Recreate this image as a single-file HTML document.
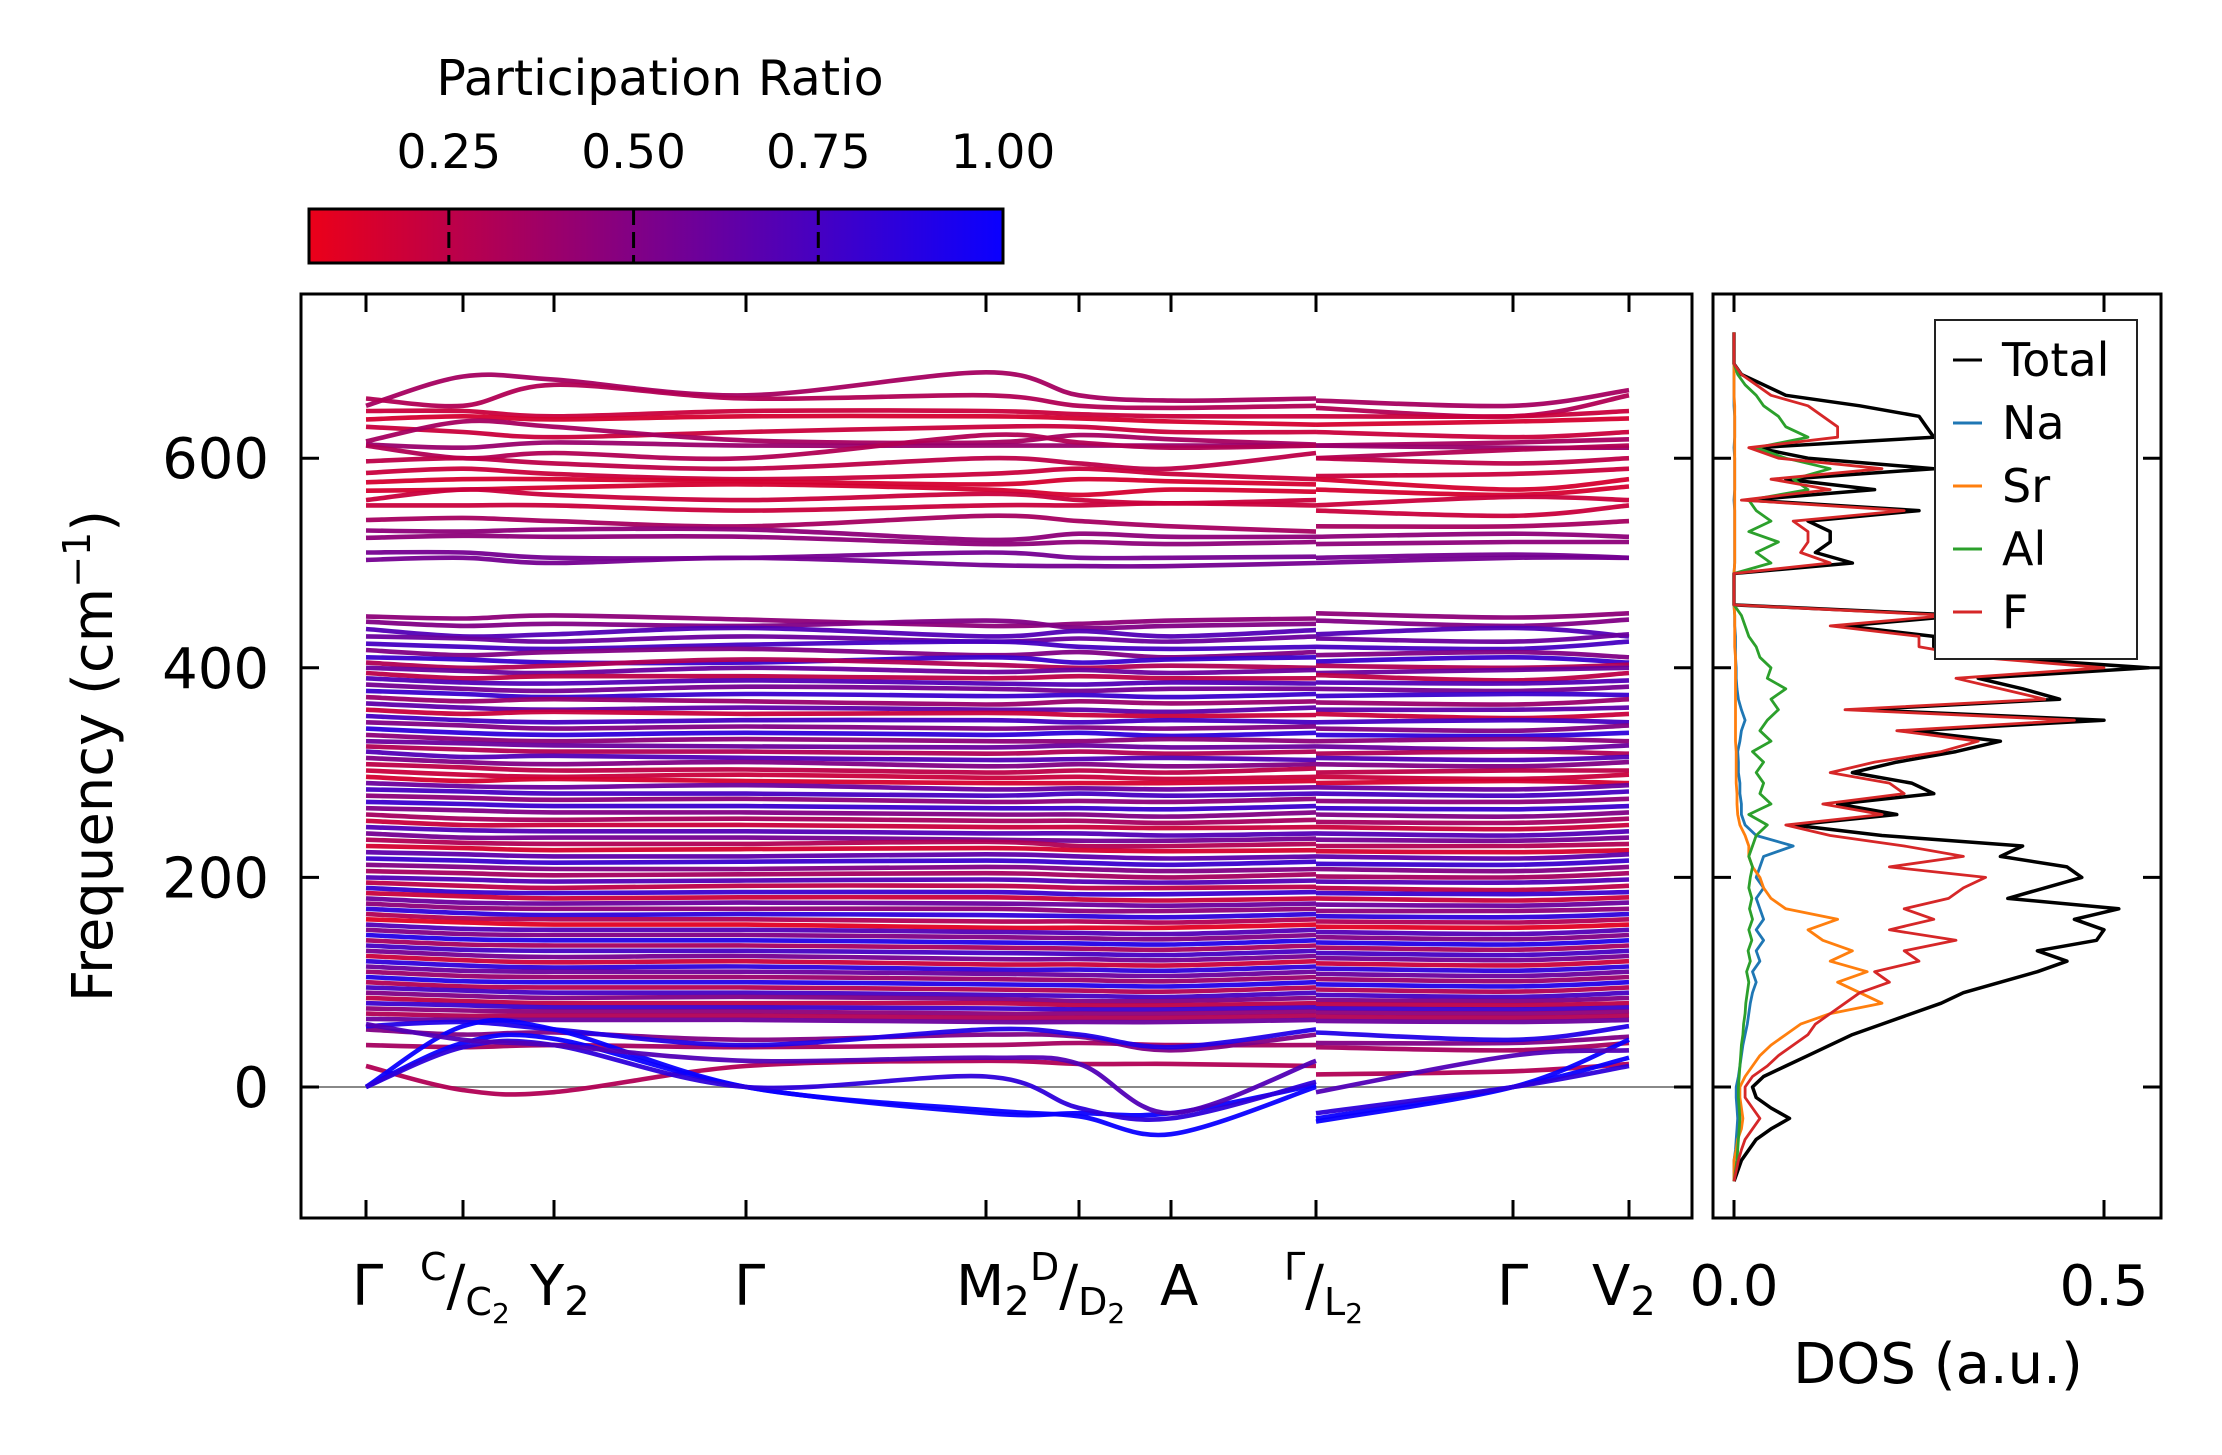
<!DOCTYPE html>
<html><head><meta charset="utf-8"><style>
html,body{margin:0;padding:0;background:#fff}
svg{display:block}
text{font-family:"DejaVu Sans","Liberation Sans",sans-serif;fill:#000}
</style></head><body>
<svg id="chart" width="2222" height="1455" viewBox="0 0 2222 1455" xmlns="http://www.w3.org/2000/svg">
<defs>
<linearGradient id="cbgrad" x1="0" x2="1" y1="0" y2="0">
<stop offset="0" stop-color="rgb(235,0,25)"/><stop offset="1" stop-color="rgb(10,0,255)"/>
</linearGradient>
<clipPath id="mainclip"><rect x="301" y="294" width="1391" height="924"/></clipPath>
<clipPath id="dosclip"><rect x="1713" y="294" width="448" height="924"/></clipPath>
</defs>
<g id="colorbar">
<text x="660" y="95" font-size="49" text-anchor="middle">Participation Ratio</text>
<rect x="309" y="209" width="694" height="54" fill="url(#cbgrad)" stroke="#000" stroke-width="3"/>
</g>
<g id="bands" clip-path="url(#mainclip)"></g>
<g id="dos" clip-path="url(#dosclip)"></g>
<g id="axes"></g>
<g id="legend"></g>
<text transform="translate(112,756) rotate(-90)" font-size="56" text-anchor="middle">Frequency (cm<tspan font-size="38" dy="-22">−1</tspan><tspan dy="22">)</tspan></text>
<text x="1938" y="1383" font-size="56" text-anchor="middle">DOS (a.u.)</text>
<g id="xlabels" font-size="56">
<text x="352" y="1305">Γ</text>
<text x="420" y="1280" font-size="38">C<tspan font-size="56" dy="25">/</tspan><tspan font-size="38" dy="10">C</tspan><tspan font-size="28" dy="8">2</tspan></text>
<text x="530" y="1305">Y<tspan font-size="40" dy="10">2</tspan></text>
<text x="734" y="1305">Γ</text>
<text x="956" y="1305">M<tspan font-size="40" dy="10">2</tspan></text>
<text x="1030" y="1280" font-size="38">D<tspan font-size="56" dy="25">/</tspan><tspan font-size="38" dy="10">D</tspan><tspan font-size="28" dy="8">2</tspan></text>
<text x="1160" y="1305">A</text>
<text x="1284" y="1280" font-size="38">Γ<tspan font-size="56" dy="25">/</tspan><tspan font-size="38" dy="10">L</tspan><tspan font-size="28" dy="8">2</tspan></text>
<text x="1497" y="1305">Γ</text>
<text x="1592" y="1305">V<tspan font-size="40" dy="10">2</tspan></text>
</g>
</svg>
<script>
const cbTicks = [0.25, 0.50, 0.75, 1.00];
const cbTickLabels = ["0.25", "0.50", "0.75", "1.00"];
const kLabels = ["Γ","C","Y2","Γ","M2","D","A","Γ|L2","L2","Γ","V2"];
const kDist = [0, 0.97, 1.88, 3.80, 6.20, 7.13, 8.05, 9.50, 9.50, 11.47, 12.63];
const yTicks = [0, 200, 400, 600];
const yTickLabels = ["0", "200", "400", "600"];
const dosTicks = [0.0, 0.5];
const dosTickLabels = ["0.0", "0.5"];
const bandPR = [
0.35,0.3,0.2,0.15,0.2,0.35,0.4,0.3,0.25,0.2,0.15,0.15,0.2,0.2,0.35,0.45,0.45,0.55,0.55,
0.45,0.5,0.7,0.6,0.75,0.5,0.8,0.3,0.6,0.25,0.7,0.55,0.8,0.4,0.65,0.2,0.75,0.5,0.85,0.45,0.6,0.3,0.7,0.5,0.25,0.2,0.15,0.6,0.75,0.45,0.8,0.5,0.35,0.2,0.7,0.55,0.3,0.15,0.65,0.8,0.5,0.35,0.7,0.25,0.8,0.2,0.6,0.45,0.85,0.3,0.1,0.7,0.5,0.9,0.35,0.75,0.55,0.2,0.85,0.6,0.4,0.9,0.3,0.75,0.5,0.25,0.8,0.45,0.3,0.6,
0.35,0.5,0.9,0.3,1.0,1.0,0.85,0.7];
const bandFreq = [
[650,678,675,660,682,660,655,657,655,650,665],
[657,650,670,657,660,650,648,650,648,640,660],
[645,645,640,645,645,642,640,640,640,640,645],
[637,640,637,640,640,638,635,632,632,635,638],
[630,625,620,625,630,630,625,625,625,620,625],
[616,635,630,617,615,622,618,613,612,615,618],
[613,610,615,612,612,612,612,612,612,610,610],
[612,600,605,600,622,615,610,612,600,608,612],
[597,600,595,590,600,595,590,605,600,595,600],
[586,590,585,580,585,590,585,580,583,585,590],
[577,580,580,578,575,580,578,575,580,570,580],
[569,570,572,575,570,565,570,568,570,565,573],
[560,570,565,560,566,560,557,560,555,563,560],
[555,555,555,550,555,555,557,555,550,545,555],
[541,543,540,535,545,540,535,530,535,535,540],
[531,530,532,532,522,528,525,525,525,528,525],
[524,526,525,525,518,520,518,520,518,520,520],
[510,510,505,505,510,505,505,506,505,508,505],
[503,505,500,505,498,497,497,500,500,505,505],
[449,447,450,446,440,442,445,447,452,448,452],
[444,440,442,440,445,438,440,442,445,440,446],
[437,430,432,438,430,435,430,436,432,438,430],
[430,428,425,430,425,428,425,430,428,425,432],
[423,420,418,422,425,420,418,420,420,418,425],
[417,412,415,418,412,415,410,415,412,415,410],
[410,408,405,405,410,405,408,410,406,410,405],
[405,400,402,408,403,400,402,400,402,400,403],
[400,397,395,400,396,398,395,398,395,398,400],
[395,390,392,392,390,392,390,390,393,388,395],
[390,386,385,388,385,384,386,385,386,385,388],
[384,380,378,382,380,378,380,380,380,378,382],
[378,375,372,375,373,374,372,375,373,375,374],
[372,368,370,368,365,368,366,368,367,365,370],
[366,362,360,362,360,360,358,362,360,360,362],
[360,356,358,356,357,355,354,355,356,352,356],
[354,350,348,350,350,348,350,348,348,350,348],
[348,345,342,344,342,343,342,344,342,340,345],
[342,338,336,338,336,338,335,338,336,335,338],
[336,332,330,332,330,330,332,330,330,332,330],
[330,328,326,325,324,326,324,325,325,322,326],
[325,322,320,320,318,320,318,320,318,320,318],
[320,315,316,314,312,313,314,312,314,312,315],
[314,310,308,310,306,308,306,308,308,306,310],
[308,305,302,303,300,302,300,304,300,302,302],
[302,298,296,298,295,296,294,296,296,294,298],
[296,292,294,292,290,290,290,292,290,292,290],
[290,287,286,288,284,285,284,286,286,284,288],
[284,282,280,280,278,280,278,280,280,278,282],
[278,276,274,275,272,273,272,275,273,272,275],
[272,270,268,268,266,266,265,268,266,265,268],
[266,264,262,262,260,260,258,262,260,258,262],
[260,256,255,256,254,254,252,255,253,252,256],
[254,250,250,250,248,248,247,248,248,246,250],
[248,245,244,244,242,242,240,242,242,240,244],
[242,238,238,238,236,235,235,237,236,235,238],
[236,233,232,232,234,230,230,232,230,230,232],
[230,228,226,227,228,226,225,226,225,224,226],
[224,222,220,220,222,220,218,220,220,218,222],
[218,216,214,215,216,214,212,215,213,212,216],
[212,210,208,208,210,208,206,208,208,206,210],
[206,204,202,203,204,202,200,203,201,200,204],
[200,198,196,197,198,196,195,197,196,195,198],
[195,192,190,192,192,190,190,191,190,188,192],
[190,186,185,186,186,184,184,186,185,184,186],
[185,182,180,181,181,179,178,180,180,178,181],
[180,176,175,176,175,174,173,175,174,173,176],
[175,171,170,170,170,168,168,170,168,168,170],
[170,166,164,165,164,163,162,165,163,162,165],
[165,161,160,160,158,158,157,160,158,157,160],
[160,157,155,155,152,152,152,155,153,152,155],
[155,151,150,150,148,147,146,150,148,146,150],
[150,146,145,145,143,142,141,145,143,141,145],
[145,141,140,140,138,137,136,140,138,136,140],
[140,136,135,135,133,132,131,135,133,131,135],
[135,131,130,130,128,127,126,130,128,126,130],
[130,126,124,125,122,122,121,125,123,121,125],
[125,121,119,120,117,117,116,120,118,116,120],
[120,116,114,115,112,112,111,115,113,111,115],
[115,111,110,110,108,107,106,110,108,106,110],
[110,106,105,105,103,102,101,105,103,101,105],
[105,101,100,100,98,97,96,100,98,96,100],
[100,96,95,95,93,92,91,95,93,91,95],
[95,92,90,90,88,87,86,90,88,86,90],
[90,87,85,86,84,82,82,85,83,82,85],
[85,82,80,80,80,78,78,80,79,78,80],
[80,78,76,76,75,74,74,76,75,74,76],
[75,73,72,72,70,70,70,72,71,70,72],
[70,68,68,68,66,66,66,68,67,66,68],
[65,64,64,64,62,62,62,64,63,62,64],
[40,38,40,38,40,42,40,40,38,35,42],
[55,50,52,45,50,48,35,50,42,42,48],
[58,62,55,40,55,50,38,55,52,45,58],
[20,-3,-5,20,25,22,22,20,12,15,22],
[0,58,55,0,-22,-28,-45,0,-33,0,45],
[0,42,46,0,-25,-25,-25,2,-30,0,28],
[0,38,40,0,10,-20,-30,5,-25,0,20],
[60,45,40,25,28,22,-25,25,-5,30,35]
];
const dosFreq = [-90,-80,-70,-60,-50,-40,-30,-20,-10,0,10,20,30,40,50,60,70,80,90,100,110,120,130,140,150,160,170,180,190,200,210,220,230,240,250,260,270,280,290,300,310,320,330,340,350,360,370,380,390,400,410,420,430,440,450,460,470,480,490,500,510,520,530,540,550,560,570,580,590,600,610,620,630,640,650,660,670,680,690,700,710,720];
const dosTotal = [0,0.005,0.01,0.02,0.03,0.05,0.075,0.05,0.03,0.025,0.04,0.07,0.1,0.13,0.16,0.2,0.24,0.28,0.31,0.36,0.41,0.45,0.41,0.49,0.5,0.46,0.52,0.37,0.42,0.47,0.45,0.36,0.39,0.2,0.08,0.22,0.14,0.27,0.24,0.16,0.22,0.3,0.36,0.24,0.5,0.17,0.44,0.39,0.33,0.56,0.35,0.27,0.27,0.15,0.31,0,0,0,0,0.16,0.11,0.13,0.13,0.1,0.25,0.02,0.19,0.07,0.27,0.1,0.03,0.27,0.26,0.25,0.17,0.07,0.04,0.01,0,0,0,0];
const dosNa = [0,0,0,0.002,0.003,0.004,0.005,0.004,0.003,0.003,0.006,0.008,0.01,0.012,0.015,0.018,0.02,0.022,0.025,0.03,0.025,0.035,0.03,0.04,0.03,0.04,0.035,0.03,0.04,0.03,0.035,0.04,0.08,0.03,0.015,0.01,0.01,0.008,0.008,0.006,0.006,0.005,0.008,0.01,0.015,0.01,0.006,0.004,0.003,0.003,0.002,0.002,0.002,0.001,0.001,0,0,0,0,0.001,0.001,0.001,0.001,0.001,0.001,0,0.001,0.001,0.001,0.001,0,0.001,0.001,0.001,0,0,0,0,0,0,0,0];
const dosSr = [0,0,0,0.003,0.005,0.01,0.012,0.01,0.008,0.008,0.015,0.025,0.035,0.05,0.07,0.09,0.13,0.2,0.17,0.14,0.18,0.13,0.16,0.12,0.1,0.14,0.07,0.05,0.04,0.035,0.025,0.02,0.02,0.015,0.008,0.005,0.004,0.004,0.003,0.003,0.003,0.003,0.002,0.002,0.002,0.002,0.002,0.002,0.002,0.002,0.002,0.001,0.001,0.001,0.001,0,0,0,0,0.001,0.001,0.001,0.001,0.001,0.001,0.001,0.001,0.001,0.001,0.001,0.001,0.001,0.001,0.001,0.001,0,0,0,0,0,0,0];
const dosAl = [0,0.002,0.004,0.005,0.006,0.007,0.008,0.007,0.006,0.006,0.007,0.008,0.009,0.01,0.012,0.013,0.015,0.016,0.018,0.02,0.017,0.022,0.019,0.024,0.02,0.025,0.021,0.024,0.02,0.022,0.025,0.02,0.025,0.03,0.045,0.02,0.05,0.035,0.04,0.03,0.04,0.025,0.05,0.035,0.045,0.06,0.05,0.07,0.045,0.05,0.035,0.03,0.02,0.015,0.01,0,0,0,0,0.05,0.03,0.06,0.02,0.05,0.03,0.02,0.1,0.08,0.13,0.07,0.03,0.1,0.07,0.06,0.04,0.03,0.015,0.005,0,0,0,0];
const dosF = [0,0.003,0.006,0.01,0.015,0.025,0.035,0.025,0.015,0.015,0.025,0.045,0.06,0.08,0.1,0.11,0.13,0.15,0.17,0.21,0.19,0.25,0.23,0.3,0.21,0.27,0.23,0.29,0.31,0.34,0.21,0.31,0.23,0.13,0.07,0.2,0.12,0.23,0.21,0.13,0.19,0.28,0.33,0.22,0.46,0.15,0.42,0.36,0.3,0.5,0.33,0.25,0.25,0.13,0.29,0,0,0,0,0.13,0.09,0.1,0.1,0.08,0.23,0.01,0.13,0.05,0.2,0.06,0.02,0.14,0.14,0.12,0.1,0.05,0.03,0.01,0,0,0,0];
const legendNames = ["Total","Na","Sr","Al","F"];
const legendColors = ["#000000","#1f77b4","#ff7f0e","#2ca02c","#d62728"];

const NS = "http://www.w3.org/2000/svg";
const xK = d => 366 + d * 100;
const yF = f => 1087 - f * 1.048;
const xD = v => 1734 + v * 740;
const xCB = v => 307 + (v - 0.058) / (1 - 0.058) * 696;
function prColor(p){
  const t = Math.max(0, Math.min(1, (p - 0.058) / (1 - 0.058)));
  return `rgb(${Math.round(235*(1-t)+10*t)},0,${Math.round(25*(1-t)+255*t)})`;
}
function mk(tag, attrs, parent){
  const e = document.createElementNS(NS, tag);
  for (const k in attrs) e.setAttribute(k, attrs[k]);
  parent.appendChild(e);
  return e;
}
function spline(pts){
  let d = `M${pts[0][0].toFixed(1)},${pts[0][1].toFixed(1)}`;
  for (let i = 0; i < pts.length - 1; i++){
    const p0 = pts[Math.max(0,i-1)], p1 = pts[i], p2 = pts[i+1], p3 = pts[Math.min(pts.length-1,i+2)];
    const c1x = p1[0] + (p2[0]-p0[0])/6, c1y = p1[1] + (p2[1]-p0[1])/6;
    const c2x = p2[0] - (p3[0]-p1[0])/6, c2y = p2[1] - (p3[1]-p1[1])/6;
    d += ` C${c1x.toFixed(1)},${c1y.toFixed(1)} ${c2x.toFixed(1)},${c2y.toFixed(1)} ${p2[0].toFixed(1)},${p2[1].toFixed(1)}`;
  }
  return d;
}

const cb = document.getElementById('colorbar');
cbTicks.forEach((v, i) => {
  const x = xCB(v);
  if (v < 1) {
    const t = mk('line', {x1:x, x2:x, y1:209, y2:263, stroke:'#000', 'stroke-width':3, 'stroke-dasharray':'16,7'}, cb);
    
    
  }
  const tx = mk('text', {x:x, y:168, 'font-size':47, 'text-anchor':'middle'}, cb);
  tx.textContent = cbTickLabels[i];
  
  
});

const gb = document.getElementById('bands');
const zl = mk('line', {x1:301, x2:1692, y1:yF(0), y2:yF(0), stroke:'#888', 'stroke-width':2}, gb);


bandFreq.forEach((b, bi) => {
  const col = prColor(bandPR[bi]);
  const seg1 = [], seg2 = [];
  for (let i = 0; i <= 7; i++) seg1.push([xK(kDist[i]), yF(b[i])]);
  for (let i = 8; i <= 10; i++) seg2.push([xK(kDist[i]), yF(b[i])]);
  [seg1, seg2].forEach(seg => {
    const p = mk('path', {d:spline(seg), fill:'none', stroke:col, 'stroke-width':4.6, 'stroke-linecap':'butt', opacity:0.95}, gb);
    
    
  });
});

const gd = document.getElementById('dos');
const dosSeries = [dosTotal, dosNa, dosSr, dosAl, dosF];
dosSeries.forEach((s, si) => {
  const pts = s.map((v, i) => `${xD(v).toFixed(1)},${yF(dosFreq[i]).toFixed(1)}`).join(' ');
  const pl = mk('polyline', {points:pts, fill:'none', stroke:legendColors[si], 'stroke-width': si===0?3.5:2.8, 'stroke-linejoin':'round'}, gd);
  
  
});

const ga = document.getElementById('axes');
const fr1 = mk('rect', {x:301, y:294, width:1391, height:924, fill:'none', stroke:'#000', 'stroke-width':3}, ga);


const fr2 = mk('rect', {x:1713, y:294, width:448, height:924, fill:'none', stroke:'#000', 'stroke-width':3}, ga);


kDist.forEach((d, i) => {
  if (i === 8) return;
  const x = xK(d);
  const t1 = mk('line', {x1:x, x2:x, y1:1218, y2:1200, stroke:'#000', 'stroke-width':3}, ga);
  
  
  const t2 = mk('line', {x1:x, x2:x, y1:294, y2:312, stroke:'#000', 'stroke-width':3}, ga);
  
  
});
yTicks.forEach((f, i) => {
  const y = yF(f);
  [[301,319],[1692,1674],[1713,1731],[2161,2143]].forEach(pair => {
    const t = mk('line', {x1:pair[0], x2:pair[1], y1:y, y2:y, stroke:'#000', 'stroke-width':3}, ga);
    
    
  });
  const tx = mk('text', {x:269, y:y+20, 'font-size':56, 'text-anchor':'end'}, ga);
  tx.textContent = yTickLabels[i];
  
  
});
dosTicks.forEach((v, i) => {
  const x = xD(v);
  const t1 = mk('line', {x1:x, x2:x, y1:1218, y2:1200, stroke:'#000', 'stroke-width':3}, ga);
  
  
  const t2 = mk('line', {x1:x, x2:x, y1:294, y2:312, stroke:'#000', 'stroke-width':3}, ga);
  
  
  const tx = mk('text', {x:x, y:1305, 'font-size':56, 'text-anchor':'middle'}, ga);
  tx.textContent = dosTickLabels[i];
  
  
});

const gl = document.getElementById('legend');
const lb = mk('rect', {x:1935, y:320, width:202, height:339, fill:'#fff', stroke:'#222', 'stroke-width':2}, gl);


legendNames.forEach((n, i) => {
  const y = 360 + i * 63;
  const ln = mk('line', {x1:1953, x2:1982, y1:y, y2:y, stroke:legendColors[i], 'stroke-width':3}, gl);
  
  
  const tx = mk('text', {x:2002, y:y+16, 'font-size':46}, gl);
  tx.textContent = n;
  
  
});
</script>
</body></html>
